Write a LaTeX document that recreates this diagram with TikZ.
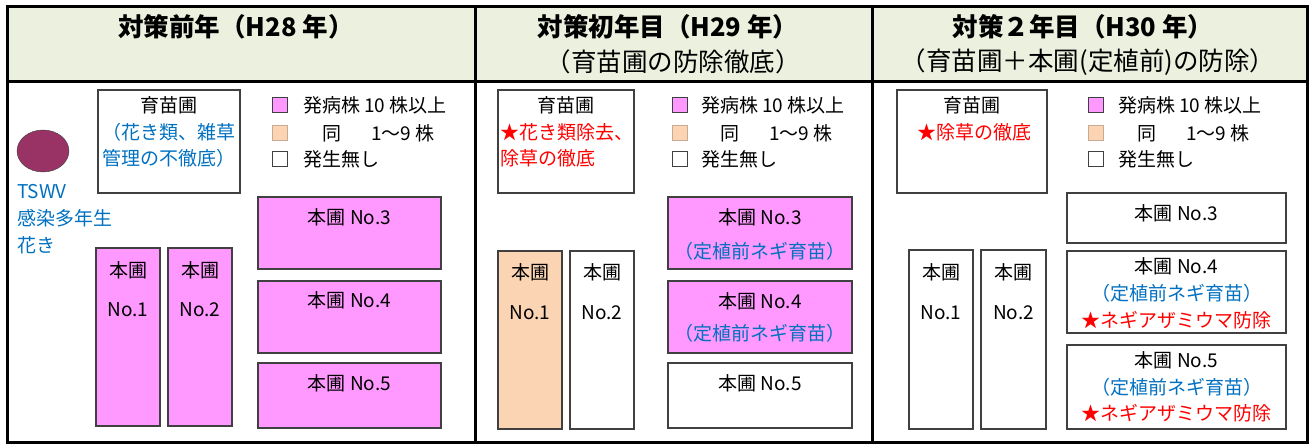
\documentclass[tikz,border=0pt]{standalone}
\usepackage{fontspec}
\setmainfont{Noto Sans CJK JP}
\usetikzlibrary{positioning,shapes.geometric}
\definecolor{hdrgreen}{HTML}{EBF1DE}
\definecolor{pinkfill}{HTML}{FF99FF}
\definecolor{peachfill}{HTML}{FBD4B4}
\definecolor{plum}{HTML}{993366}
\definecolor{txtblue}{HTML}{0070C0}
\definecolor{txtred}{HTML}{FF0000}
\definecolor{edgegray}{HTML}{404040}
\newcommand{\bodyfs}{\fontsize{19}{21}\selectfont}
\newcommand{\titlefs}{\fontsize{25.5}{27}\selectfont}
\tikzset{
  plotbox/.style={draw=edgegray, line width=1.2pt},
  frameline/.style={draw=black, line width=3pt},
  lbl/.style={inner sep=0pt, font=\bodyfs, text=black},
  lblL/.style={lbl, anchor=west},
  bluetxt/.style={lbl, text=txtblue},
  redtxt/.style={lbl, text=txtred},
  ttl/.style={inner sep=0pt, font=\titlefs\bfseries},
  ttlsub/.style={inner sep=0pt, font=\titlefs},
  legsq/.style={draw=edgegray, line width=1pt, minimum width=15pt, minimum height=15pt, inner sep=0pt},
}
\begin{document}
\begin{tikzpicture}[x=1pt,y=-1pt]
\useasboundingbox (0,0) rectangle (1309,444);
% header background and frame
\fill[hdrgreen] (7,7) rectangle (1307,81);
\draw[frameline] (7,81) -- (1307,81);
\draw[frameline] (475,7) -- (475,442);
\draw[frameline] (872,7) -- (872,442);
\draw[frameline] (7,7) rectangle (1307,442);

% titles
\node[ttl] (t1) at (236,27) {対策前年（H28 年）};
\node[ttl] (t2) at (668,27) {対策初年目（H29 年）};
\node[ttlsub] (t2b) at (673,62) {（育苗圃の防除徹底）};
\node[ttl] (t3) at (1083,27) {対策２年目（H30 年）};
\node[ttlsub] (t3b) at (1088,62) {（育苗圃＋本圃(定植前)の防除）};

% ===== Panel 1 =====
\node[draw=edgegray, fill=plum, ellipse, minimum width=52pt, minimum height=42pt, inner sep=0pt] (virus) at (43,151) {};
\node[bluetxt, anchor=west] (tswv1) at (17,192) {TSWV};
\node[bluetxt, anchor=west] (tswv2) at (17,218) {感染多年生};
\node[bluetxt, anchor=west] (tswv3) at (17,245) {花き};

\node[plotbox, minimum width=142pt, minimum height=103pt] (n1) at (169,141.5) {};
\node[lbl] (n1a) at (169,105) {育苗圃};
\node[bluetxt] (n1b) at (169,132) {（花き類、雑草};
\node[bluetxt] (n1c) at (169,158) {管理の不徹底）};

\node[legsq, fill=pinkfill] (l1a) at (279.5,105) {};
\node[legsq, fill=peachfill, draw=peachfill!80!black] (l1b) at (279.5,133) {};
\node[legsq, fill=white] (l1c) at (279.5,159) {};
\node[lblL] (l1at) at (303,105) {発病株 10 株以上};
\node[lblL] (l1bt) at (303,133) {\hspace{19pt}同\hspace{30pt}1～9 株};
\node[lblL] (l1ct) at (303,159) {発生無し};

\node[plotbox, fill=pinkfill, minimum width=64pt, minimum height=178pt] (p1f1) at (128,337) {};
\node[lbl] (p1f1a) at (128,270) {本圃};
\node[lbl] (p1f1b) at (128,310) {No.1};
\node[plotbox, fill=pinkfill, minimum width=64pt, minimum height=178pt] (p1f2) at (200,337) {};
\node[lbl] (p1f2a) at (200,270) {本圃};
\node[lbl] (p1f2b) at (200,310) {No.2};
\node[plotbox, fill=pinkfill, minimum width=183pt, minimum height=72pt] (p1f3) at (349.5,233) {};
\node[lbl] (p1f3a) at (349.5,217) {本圃 No.3};
\node[plotbox, fill=pinkfill, minimum width=183pt, minimum height=72pt] (p1f4) at (349.5,317) {};
\node[lbl] (p1f4a) at (349.5,300) {本圃 No.4};
\node[plotbox, fill=pinkfill, minimum width=183pt, minimum height=65pt] (p1f5) at (349.5,395.5) {};
\node[lbl] (p1f5a) at (349.5,383) {本圃 No.5};

% ===== Panel 2 =====
\node[plotbox, minimum width=136pt, minimum height=103pt] (n2) at (566,141.5) {};
\node[lbl] (n2a) at (566,105) {育苗圃};
\node[redtxt, anchor=west] (n2b) at (500,132) {★花き類除去、};
\node[redtxt, anchor=west] (n2c) at (500,158) {除草の徹底};

\node[legsq, fill=pinkfill] (l2a) at (679.5,105) {};
\node[legsq, fill=peachfill, draw=peachfill!80!black] (l2b) at (679.5,133) {};
\node[legsq, fill=white] (l2c) at (679.5,159) {};
\node[lblL] (l2at) at (701,105) {発病株 10 株以上};
\node[lblL] (l2bt) at (701,133) {\hspace{19pt}同\hspace{30pt}1～9 株};
\node[lblL] (l2ct) at (701,159) {発生無し};

\node[plotbox, fill=peachfill, minimum width=64pt, minimum height=178pt] (p2f1) at (530,340) {};
\node[lbl] (p2f1a) at (530,272) {本圃};
\node[lbl] (p2f1b) at (530,313) {No.1};
\node[plotbox, fill=white, minimum width=64pt, minimum height=178pt] (p2f2) at (602,340) {};
\node[lbl] (p2f2a) at (602,272) {本圃};
\node[lbl] (p2f2b) at (602,313) {No.2};
\node[plotbox, fill=pinkfill, minimum width=184pt, minimum height=72pt] (p2f3) at (760,233) {};
\node[lbl] (p2f3a) at (760,217) {本圃 No.3};
\node[bluetxt] (p2f3b) at (760,251) {（定植前ネギ育苗）};
\node[plotbox, fill=pinkfill, minimum width=184pt, minimum height=72pt] (p2f4) at (760,317) {};
\node[lbl] (p2f4a) at (760,301) {本圃 No.4};
\node[bluetxt] (p2f4b) at (760,333) {（定植前ネギ育苗）};
\node[plotbox, fill=white, minimum width=184pt, minimum height=65pt] (p2f5) at (760,395.5) {};
\node[lbl] (p2f5a) at (760,383) {本圃 No.5};

% ===== Panel 3 =====
\node[plotbox, minimum width=150pt, minimum height=103pt] (n3) at (972,141.5) {};
\node[lbl] (n3a) at (972,105) {育苗圃};
\node[redtxt] (n3b) at (974,132) {★除草の徹底};

\node[legsq, fill=pinkfill] (l3a) at (1096,105) {};
\node[legsq, fill=peachfill, draw=peachfill!80!black] (l3b) at (1096,133) {};
\node[legsq, fill=white] (l3c) at (1096,159) {};
\node[lblL] (l3at) at (1118,105) {発病株 10 株以上};
\node[lblL] (l3bt) at (1118,133) {\hspace{19pt}同\hspace{30pt}1～9 株};
\node[lblL] (l3ct) at (1118,159) {発生無し};

\node[plotbox, fill=white, minimum width=64pt, minimum height=179pt] (p3f1) at (941,339.5) {};
\node[lbl] (p3f1a) at (941,272) {本圃};
\node[lbl] (p3f1b) at (941,313) {No.1};
\node[plotbox, fill=white, minimum width=65pt, minimum height=179pt] (p3f2) at (1013.5,339.5) {};
\node[lbl] (p3f2a) at (1013.5,272) {本圃};
\node[lbl] (p3f2b) at (1013.5,313) {No.2};
\node[plotbox, fill=white, minimum width=219pt, minimum height=50pt] (p3f3) at (1176.5,218) {};
\node[lbl] (p3f3a) at (1176.5,213) {本圃 No.3};
\node[plotbox, fill=white, minimum width=219pt, minimum height=82pt] (p3f4) at (1176.5,292) {};
\node[lbl] (p3f4a) at (1176.5,266) {本圃 No.4};
\node[bluetxt] (p3f4b) at (1176.5,293) {（定植前ネギ育苗）};
\node[redtxt] (p3f4c) at (1176.5,320) {★ネギアザミウマ防除};
\node[plotbox, fill=white, minimum width=219pt, minimum height=84pt] (p3f5) at (1176.5,387) {};
\node[lbl] (p3f5a) at (1176.5,360) {本圃 No.5};
\node[bluetxt] (p3f5b) at (1176.5,387) {（定植前ネギ育苗）};
\node[redtxt] (p3f5c) at (1176.5,413) {★ネギアザミウマ防除};
\end{tikzpicture}
\end{document}
